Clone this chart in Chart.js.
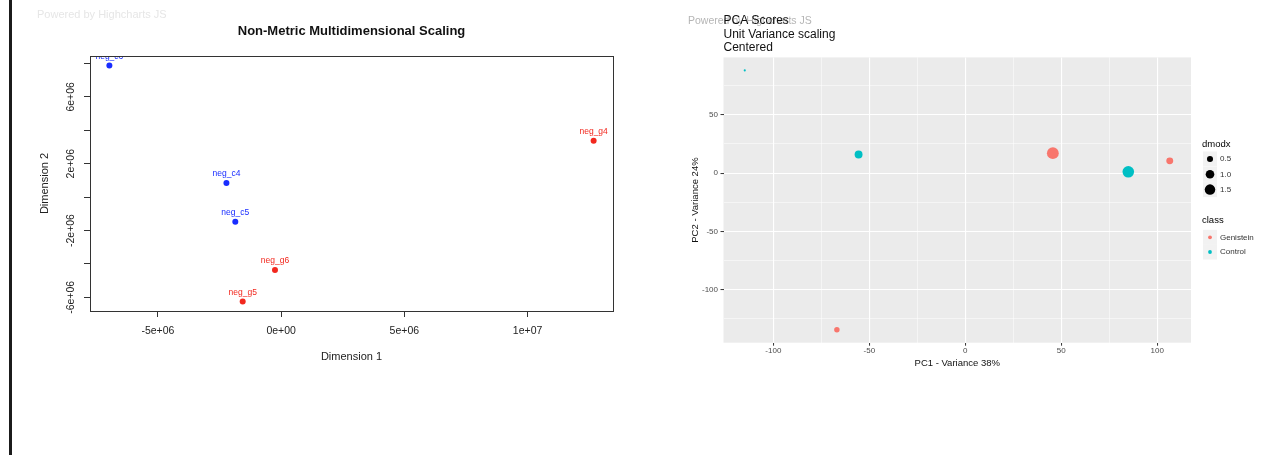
<!DOCTYPE html>
<html>
<head>
<meta charset="utf-8">
<script src="https://cdn.jsdelivr.net/npm/chart.js@4.4.1/dist/chart.umd.min.js"></script>
<style>
body { margin: 0; background: #fff; }
#wrap { position: relative; width: 1276px; height: 455px; overflow: hidden; }
#nmds { position: absolute; left: 0; top: 0; }
#pca { position: absolute; left: 640px; top: 0; }
#edge { position: absolute; left: 9px; top: 0; width: 3px; height: 455px; background: #1b1b1b; }
</style>
</head>
<body>
<div id="wrap">
  <canvas id="nmds" width="640" height="455"></canvas>
  <canvas id="pca" width="636" height="455"></canvas>
  <div id="edge"></div>
</div>
<script>
// --- NMDS (left) ---
const ctlNames = ['neg_c6', 'neg_c4', 'neg_c5'];
const ctlDim1 = [-6.97e6, -2.22e6, -1.86e6];
const ctlDim2 = [7.88e6, 0.85e6, -1.47e6];
const genNames = ['neg_g4', 'neg_g6', 'neg_g5'];
const genDim1 = [12.68e6, -0.25e6, -1.56e6];
const genDim2 = [3.38e6, -4.36e6, -6.25e6];
const dim1Ticks = [-5e6, 0, 5e6, 1e7];
const dim1Labels = ['-5e+06', '0e+00', '5e+06', '1e+07'];
const dim2Ticks = [-6e6, -4e6, -2e6, 0, 2e6, 4e6, 6e6, 8e6];
const dim2Labels = ['-6e+06', '', '-2e+06', '', '2e+06', '', '6e+06', ''];

// --- PCA scores (right) ---
const genPC1 = [45.6, 106.5, -66.9];
const genPC2 = [17.1, 10.5, -134.2];
const genDmodx = [1.9, 0.65, 0.4];
const ctlPC1 = [-114.9, -55.6, 84.9];
const ctlPC2 = [88.0, 16.0, 1.1];
const ctlDmodx = [0.06, 0.85, 1.8];
const pc1Ticks = [-100, -75, -50, -25, 0, 25, 50, 75, 100];
const pc1Labels = ['-100', '', '-50', '', '0', '', '50', '', '100'];
const pc2Ticks = [-125, -100, -75, -50, -25, 0, 25, 50, 75];
const pc2Labels = ['', '-100', '', '-50', '', '0', '', '50', ''];
const dmodxBreaks = [0.5, 1.0, 1.5];
const dmodxLabels = ['0.5', '1.0', '1.5'];
const classNames = ['Genistein', 'Control'];

const FONT = '"Liberation Sans", Arial, sans-serif';
Chart.defaults.font.family = FONT;

const blue = 'rgb(25,45,255)';
const red = 'rgb(242,40,30)';
const ggRed = '#F8766D';
const ggCyan = '#00BFC4';

function pts(xs, ys) { return xs.map((x, i) => ({ x: x, y: ys[i] })); }

// axis range like R (4%) / ggplot (5%)
function padRange(vals, f) {
  const lo = Math.min(...vals), hi = Math.max(...vals);
  return { min: lo - (hi - lo) * f, max: hi + (hi - lo) * f };
}
const r1 = padRange(ctlDim1.concat(genDim1), 0.04);
const r2 = padRange(ctlDim2.concat(genDim2), 0.04);
const p1 = padRange(ctlPC1.concat(genPC1), 0.05);
const p2 = padRange(ctlPC2.concat(genPC2), 0.05);

function faint(x, y, color, size) {
  return {
    id: 'faint',
    beforeDraw(chart) {
      const c = chart.ctx;
      c.save();
      c.font = size + 'px ' + FONT;
      c.fillStyle = color;
      c.textBaseline = 'middle';
      c.fillText('Powered by Highcharts JS', x, y);
      c.restore();
    }
  };
}

const boxPlugin = {
  id: 'box',
  afterDraw(chart) {
    const a = chart.chartArea, c = chart.ctx;
    c.save();
    c.strokeStyle = '#333';
    c.lineWidth = 1;
    c.strokeRect(Math.round(a.left) + 0.5, Math.round(a.top) + 0.5, Math.round(a.width), Math.round(a.height));
    c.restore();
  }
};

const nameLabels = {
  id: 'nameLabels',
  afterDatasetsDraw(chart) {
    const a = chart.chartArea, c = chart.ctx;
    c.save();
    c.beginPath();
    c.rect(a.left, a.top, a.width, a.height);
    c.clip();
    c.font = '8.5px ' + FONT;
    c.textAlign = 'center';
    c.textBaseline = 'middle';
    chart.data.datasets.forEach(function (ds, i) {
      c.fillStyle = ds.borderColor;
      chart.getDatasetMeta(i).data.forEach(function (p, j) {
        c.fillText(ds.names[j], p.x, p.y - 9);
      });
    });
    c.restore();
  }
};

new Chart(document.getElementById('nmds'), {
  type: 'scatter',
  data: {
    datasets: [
      { label: 'control', names: ctlNames, data: pts(ctlDim1, ctlDim2), backgroundColor: blue, borderColor: blue, pointRadius: 3, borderWidth: 0 },
      { label: 'genistein', names: genNames, data: pts(genDim1, genDim2), backgroundColor: red, borderColor: red, pointRadius: 3, borderWidth: 0 }
    ]
  },
  options: {
    responsive: false,
    animation: false,
    layout: { padding: { top: 0, right: 27, bottom: 84, left: 0 } },
    plugins: {
      legend: { display: false },
      tooltip: { enabled: false },
      title: {
        display: true, fullSize: false,
        text: 'Non-Metric Multidimensional Scaling',
        color: '#111',
        font: { size: 13, weight: 'bold' },
        padding: { top: 23.2, bottom: 17.2 }
      }
    },
    scales: {
      x: {
        type: 'linear', min: r1.min, max: r1.max,
        afterBuildTicks: s => { s.ticks = dim1Ticks.map(v => ({ value: v })); },
        afterFit: s => { s.height = 60; },
        ticks: { autoSkip: false, maxRotation: 0, padding: 7.4, color: '#222', font: { size: 10.5 },
          callback: (v, i) => dim1Labels[i] },
        grid: { drawOnChartArea: false, tickLength: 6, color: '#333' },
        border: { color: '#333' },
        title: { display: true, text: 'Dimension 1', color: '#222', font: { size: 11 }, padding: { top: 0, bottom: 7.7 } }
      },
      y: {
        type: 'linear', min: r2.min, max: r2.max,
        afterBuildTicks: s => { s.ticks = dim2Ticks.map(v => ({ value: v })); },
        afterFit: s => { s.width = 90; },
        ticks: { autoSkip: false, minRotation: 90, maxRotation: 90, crossAlign: 'center', padding: -3.2,
          color: '#222', font: { size: 10.5 }, callback: (v, i) => dim2Labels[i] },
        grid: { drawOnChartArea: false, tickLength: 6, color: '#333' },
        border: { color: '#333' },
        title: { display: true, text: 'Dimension 2', color: '#222', font: { size: 11 }, padding: { top: 38.4, bottom: 0 } }
      }
    }
  },
  plugins: [faint(37, 15, '#e6e6e6', 11), nameLabels, boxPlugin]
});

// --- PCA ---
const rad = d => 4.3 * Math.sqrt(d);
const major = c => c.tick && c.tick.value % 50 === 0;

const panelBg = {
  id: 'panelBg',
  beforeDraw(chart) {
    const a = chart.chartArea, c = chart.ctx;
    c.save();
    c.fillStyle = '#EBEBEB';
    c.fillRect(a.left, a.top, a.width, a.height);
    c.restore();
  }
};

const ggLegend = {
  id: 'ggLegend',
  afterDraw(chart) {
    const c = chart.ctx;
    const kx = 563, kw = 14, kh = 15, lx = 580;
    c.save();
    c.textBaseline = 'middle';
    c.fillStyle = '#000';
    c.font = '9.5px ' + FONT;
    c.fillText('dmodx', 562, 144);
    const sy = [159, 174.3, 189.6];
    dmodxBreaks.forEach(function (b, i) {
      c.fillStyle = '#F2F2F2';
      c.fillRect(kx, sy[i] - kh / 2, kw, kh);
      c.fillStyle = '#000';
      c.beginPath();
      c.arc(kx + kw / 2, sy[i], rad(b), 0, Math.PI * 2);
      c.fill();
      c.font = '8px ' + FONT;
      c.fillStyle = '#333';
      c.fillText(dmodxLabels[i], lx, sy[i]);
    });
    c.fillStyle = '#000';
    c.font = '9.5px ' + FONT;
    c.fillText('class', 562, 220);
    const cy = [237.3, 252];
    const cols = [ggRed, ggCyan];
    classNames.forEach(function (n, i) {
      c.fillStyle = '#F2F2F2';
      c.fillRect(kx, cy[i] - kh / 2, kw, kh);
      c.fillStyle = cols[i];
      c.beginPath();
      c.arc(kx + kw / 2, cy[i], 1.9, 0, Math.PI * 2);
      c.fill();
      c.font = '8px ' + FONT;
      c.fillStyle = '#333';
      c.fillText(n, lx, cy[i]);
    });
    c.restore();
  }
};

new Chart(document.getElementById('pca'), {
  type: 'scatter',
  data: {
    datasets: [
      { label: 'Genistein', dmodx: genDmodx, data: pts(genPC1, genPC2), backgroundColor: ggRed, borderWidth: 0,
        pointRadius: c => rad(c.dataset.dmodx[c.dataIndex]) },
      { label: 'Control', dmodx: ctlDmodx, data: pts(ctlPC1, ctlPC2), backgroundColor: ggCyan, borderWidth: 0,
        pointRadius: c => rad(c.dataset.dmodx[c.dataIndex]) }
    ]
  },
  options: {
    responsive: false,
    animation: false,
    layout: { padding: { top: 0, right: 85, bottom: 82.3, left: 0 } },
    plugins: {
      legend: { display: false },
      tooltip: { enabled: false },
      title: {
        display: true, fullSize: false, align: 'start',
        text: ['PCA Scores', 'Unit Variance scaling', 'Centered'],
        color: '#111',
        font: { size: 12, weight: 'normal', lineHeight: 1.12 },
        padding: { top: 14.3, bottom: 2.8 }
      }
    },
    scales: {
      x: {
        type: 'linear', min: p1.min, max: p1.max,
        afterBuildTicks: s => { s.ticks = pc1Ticks.map(v => ({ value: v })); },
        afterFit: s => { s.height = 30; },
        ticks: { autoSkip: false, maxRotation: 0, padding: 0.2, color: '#4D4D4D', font: { size: 8 },
          callback: (v, i) => pc1Labels[i] },
        grid: { color: '#fff', lineWidth: c => major(c) ? 1.1 : 0.5, tickLength: 3,
          tickColor: c => major(c) ? '#333' : 'rgba(0,0,0,0)', tickWidth: 1 },
        border: { display: false },
        title: { display: true, text: 'PC1 - Variance 38%', color: '#111', font: { size: 9.5 }, padding: { top: 0, bottom: 4 } }
      },
      y: {
        type: 'linear', min: p2.min, max: p2.max,
        afterBuildTicks: s => { s.ticks = pc2Ticks.map(v => ({ value: v })); },
        afterFit: s => { s.width = 83.5; },
        ticks: { autoSkip: false, padding: 2.5, color: '#4D4D4D', font: { size: 8 },
          callback: (v, i) => pc2Labels[i] },
        grid: { color: '#fff', lineWidth: c => major(c) ? 1.1 : 0.5, tickLength: 3,
          tickColor: c => major(c) ? '#333' : 'rgba(0,0,0,0)', tickWidth: 1 },
        border: { display: false },
        title: { display: true, text: 'PC2 - Variance 24%', color: '#111', font: { size: 9.5 }, padding: { top: 49.3, bottom: 0 } }
      }
    }
  },
  plugins: [faint(48, 21, '#b5b5b5', 10.5), panelBg, ggLegend]
});
</script>
</body>
</html>
